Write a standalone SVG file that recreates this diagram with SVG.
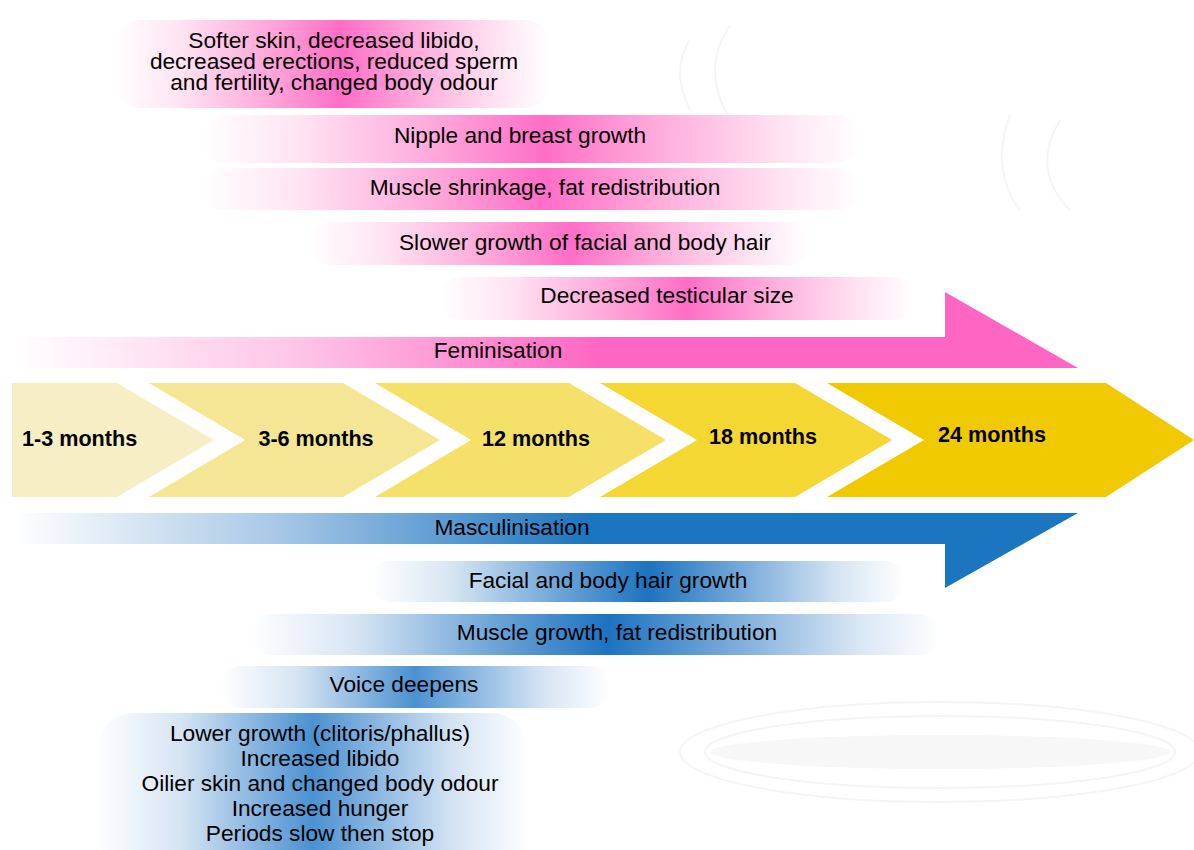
<svg xmlns="http://www.w3.org/2000/svg" width="1194" height="850" viewBox="0 0 1194 850">
<defs>
<linearGradient id="pk" x1="0" y1="0" x2="1" y2="0">
<stop offset="0" stop-color="#ffffff"/>
<stop offset="0.15" stop-color="#ffe3f2"/>
<stop offset="0.35" stop-color="#ffa8da"/>
<stop offset="0.52" stop-color="#ff6ec7"/>
<stop offset="0.7" stop-color="#ffaedc"/>
<stop offset="0.88" stop-color="#ffe3f2"/>
<stop offset="1" stop-color="#ffffff"/>
</linearGradient>
<linearGradient id="bl" x1="0" y1="0" x2="1" y2="0">
<stop offset="0" stop-color="#ffffff"/>
<stop offset="0.15" stop-color="#d8e6f4"/>
<stop offset="0.35" stop-color="#6fa5d8"/>
<stop offset="0.52" stop-color="#1c73c0"/>
<stop offset="0.7" stop-color="#7aabda"/>
<stop offset="0.88" stop-color="#d8e6f4"/>
<stop offset="1" stop-color="#ffffff"/>
</linearGradient>
<linearGradient id="bl2" x1="0" y1="0" x2="1" y2="0">
<stop offset="0" stop-color="#ffffff"/>
<stop offset="0.2" stop-color="#d5e4f3"/>
<stop offset="0.5" stop-color="#4b91d1"/>
<stop offset="0.82" stop-color="#d3e3f3"/>
<stop offset="1" stop-color="#ffffff"/>
</linearGradient>
<linearGradient id="femG" gradientUnits="userSpaceOnUse" x1="15" y1="0" x2="600" y2="0">
<stop offset="0" stop-color="#ffffff"/>
<stop offset="0.5" stop-color="#ffc2e6"/>
<stop offset="1" stop-color="#ff66c4"/>
</linearGradient>
<linearGradient id="masG" gradientUnits="userSpaceOnUse" x1="15" y1="0" x2="590" y2="0">
<stop offset="0" stop-color="#ffffff"/>
<stop offset="0.45" stop-color="#a9c9e7"/>
<stop offset="1" stop-color="#1b75bf"/>
</linearGradient>
</defs>
<style>
text{font-family:"Liberation Sans",Arial,sans-serif;font-size:22.7px;fill:#000;text-anchor:middle;dominant-baseline:central}
.b{font-weight:bold;font-size:21.6px}
.bg{fill:none;stroke:#f5f5f5;stroke-width:2}
</style>
<rect width="1194" height="850" fill="#ffffff"/>
<g id="background">
<ellipse class="bg" cx="940" cy="752" rx="260" ry="50"/>
<ellipse class="bg" cx="940" cy="752" rx="235" ry="36"/>
<ellipse cx="940" cy="752" rx="230" ry="17" fill="#f7f7f7"/>
<path class="bg" d="M690 40 Q670 70 690 110 M730 25 Q700 70 730 120 M1010 115 Q990 170 1020 210 M1060 120 Q1030 170 1070 210"/>
</g>
<g id="fem-softer"><rect x="115" y="20" width="435" height="88" rx="24" fill="url(#pk)"/>
<text x="334" y="40">Softer skin, decreased libido,<tspan x="334" dy="21">decreased erections, reduced sperm</tspan><tspan x="334" dy="21">and fertility, changed body odour</tspan></text></g>
<g id="fem-nipple"><rect x="203" y="115" width="657" height="48" rx="22" fill="url(#pk)"/>
<text x="520" y="135">Nipple and breast growth</text></g>
<g id="fem-muscle"><rect x="203" y="168" width="657" height="42" rx="20" fill="url(#pk)"/>
<text x="545" y="187">Muscle shrinkage, fat redistribution</text></g>
<g id="fem-hair"><rect x="310" y="222" width="500" height="43" rx="20" fill="url(#pk)"/>
<text x="585" y="242">Slower growth of facial and body hair</text></g>
<g id="fem-testicular"><rect x="440" y="277" width="475" height="43" rx="20" fill="url(#pk)"/>
<text x="667" y="295">Decreased testicular size</text></g>
<g id="feminisation"><polygon points="15,337 945,337 945,292 1078,368 15,368" fill="url(#femG)"/>
<text x="498" y="350">Feminisation</text></g>
<g id="m1-3"><polygon points="12,383 117,383 214,440 117,497 12,497" fill="#f6efc6"/>
<text class="b" x="22" y="438" style="text-anchor:start">1-3 months</text></g>
<g id="m3-6"><polygon points="149,383 343,383 440,440 343,497 149,497 245,440" fill="#f5e695"/>
<text class="b" x="316" y="438">3-6 months</text></g>
<g id="m12"><polygon points="375,383 569,383 666,440 569,497 375,497 471,440" fill="#f5e169"/>
<text class="b" x="536" y="438">12 months</text></g>
<g id="m18"><polygon points="600,383 795,383 892,440 795,497 600,497 697,440" fill="#f5d733"/>
<text class="b" x="763" y="436">18 months</text></g>
<g id="m24"><polygon points="827,383 1106,383 1194,440 1106,497 827,497 924,440" fill="#f0c900"/>
<text class="b" x="992" y="434">24 months</text></g>
<g id="masculinisation"><polygon points="15,513 1078,513 945,588 945,544 15,544" fill="url(#masG)"/>
<text x="512" y="527">Masculinisation</text></g>
<g id="mas-hair"><rect x="370" y="561" width="535" height="41" rx="20" fill="url(#bl)"/>
<text x="608" y="580">Facial and body hair growth</text></g>
<g id="mas-muscle"><rect x="250" y="614" width="690" height="41" rx="20" fill="url(#bl)"/>
<text x="617" y="632">Muscle growth, fat redistribution</text></g>
<g id="mas-voice"><rect x="220" y="666" width="390" height="42" rx="20" fill="url(#bl2)"/>
<text x="404" y="684">Voice deepens</text></g>
<g id="mas-other"><rect x="95" y="713" width="435" height="160" rx="40" fill="url(#bl2)"/>
<text x="320" y="733">Lower growth (clitoris/phallus)<tspan x="320" dy="25">Increased libido</tspan><tspan x="320" dy="25">Oilier skin and changed body odour</tspan><tspan x="320" dy="25">Increased hunger</tspan><tspan x="320" dy="25">Periods slow then stop</tspan></text></g>
</svg>
